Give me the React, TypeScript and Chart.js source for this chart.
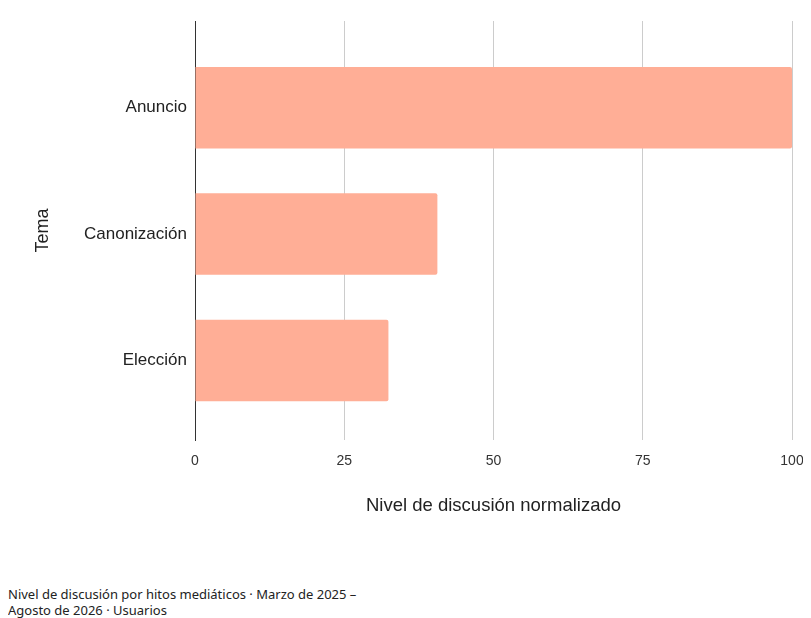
import React, { useEffect, useRef } from "react";
import { Chart, registerables } from "chart.js";

Chart.register(...registerables);

const categories = ["Anuncio", "Canonización", "Elección"];
const values = [100, 40.6, 32.4];
const xTicks = [0, 25, 50, 75, 100];
const xTitle = "Nivel de discusión normalizado";
const yTitle = "Tema";
const caption = "Nivel de discusión por hitos mediáticos · Marzo de 2025 – Agosto de 2026 · Usuarios";

const FONT = "'Liberation Sans', Arial, sans-serif";

export default function App() {
  const ref = useRef<HTMLCanvasElement | null>(null);

  useEffect(() => {
    if (!ref.current) return;
    const chart = new Chart(ref.current, {
      type: "bar",
      data: {
        datasets: [
          {
            data: values.map((v, i) => ({ x: v, y: i })),
            backgroundColor: "#ffae96",
            borderWidth: 0,
            borderRadius: 2,
            categoryPercentage: 1,
            barPercentage: 0.645,
          },
        ],
      },
      options: {
        animation: false,
        responsive: true,
        maintainAspectRatio: false,
        indexAxis: "y",
        layout: { padding: { top: 13, right: 11, bottom: 0, left: 0 } },
        plugins: { legend: { display: false }, tooltip: { enabled: false } },
        scales: {
          x: {
            type: "linear",
            position: "bottom",
            min: 0,
            max: 100,
            offset: false,
            afterBuildTicks: (scale: any) => {
              scale.ticks = xTicks.map((v) => ({ value: v }));
            },
            afterFit: (scale: any) => {
              scale.height = 108;
              scale.paddingLeft = 0;
              scale.paddingRight = 0;
            },
            grid: { color: "#cccccc", lineWidth: 1, drawTicks: false },
            border: { display: false },
            ticks: {
              padding: 13,
              color: "#333333",
              font: { family: FONT, size: 14 },
              maxRotation: 0,
            },
            title: {
              display: true,
              text: xTitle,
              color: "#222222",
              font: { family: FONT, size: 18.5 },
              padding: { top: 0, bottom: 31 },
            },
          },
          y: {
            type: "linear",
            position: "left",
            reverse: true,
            offset: false,
            min: -0.687,
            max: 2.63,
            afterBuildTicks: (scale: any) => {
              scale.ticks = categories.map((_, i) => ({ value: i }));
            },
            afterFit: (scale: any) => {
              scale.width = 187;
              scale.paddingTop = 0;
              scale.paddingBottom = 0;
            },
            grid: { display: false, drawTicks: false },
            border: { display: true, color: "#333333", width: 1 },
            ticks: {
              padding: 8,
              color: "#222222",
              font: { family: FONT, size: 17 },
              callback: (v: any) => categories[Number(v)] ?? "",
            },
            title: {
              display: true,
              text: yTitle,
              color: "#222222",
              font: { family: FONT, size: 18 },
              padding: { top: 24, bottom: 0 },
            },
          },
        },
      },
    });
    return () => chart.destroy();
  }, []);

  return (
    <div>
      <div style={{ position: "relative", width: 795, height: 540 }}>
        <canvas ref={ref} />
      </div>
      <div
        style={{
          marginTop: 38,
          maxWidth: 365,
          fontFamily: "'Noto Sans', 'Open Sans', sans-serif",
          fontSize: 13,
          lineHeight: "16px",
          color: "#222222",
        }}
      >
        {caption}
      </div>
    </div>
  );
}
